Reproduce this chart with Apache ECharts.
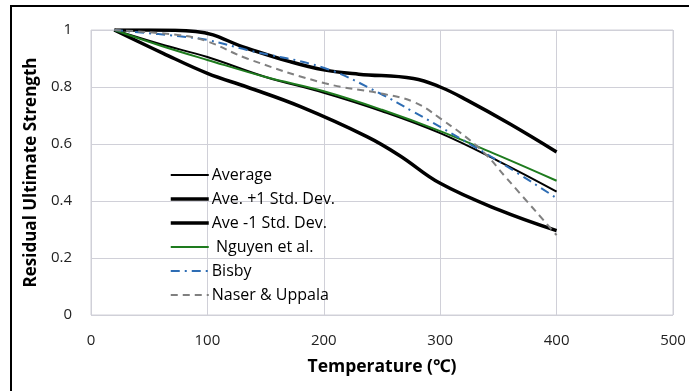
<!DOCTYPE html>
<html>
<head>
<meta charset="utf-8">
<script src="https://cdn.jsdelivr.net/npm/echarts@6/dist/echarts.min.js"></script>
<style>html,body{margin:0;padding:0;background:#fff}#c{width:689px;height:391px}</style>
</head>
<body>
<div id="c"></div>
<script>
var seriesNames = ['Average', 'Ave. +1 Std. Dev.', 'Ave -1 Std. Dev.', ' Nguyen et al.', 'Bisby', 'Naser & Uppala'];
var xTicks = [0, 100, 200, 300, 400, 500];
var yTicks = [0, 0.2, 0.4, 0.6, 0.8, 1];

var avgT = [20, 60, 100, 150, 200, 250, 300, 350, 400];
var avgV = [1.0, 0.95, 0.905, 0.835, 0.78, 0.715, 0.638, 0.54, 0.433];

var plusT = [20, 50, 90, 134, 170, 200, 230, 277, 300, 323, 360, 400];
var plusV = [1.0, 1.0, 0.995, 0.936, 0.89, 0.86, 0.845, 0.83, 0.80, 0.754, 0.67, 0.572];

var minusT = [20, 62, 100, 134, 180, 237, 265, 300, 351, 400];
var minusV = [1.0, 0.918, 0.848, 0.80, 0.731, 0.626, 0.56, 0.462, 0.368, 0.296];

var nguyenT = [20, 60, 100, 150, 200, 250, 300, 350, 400];
var nguyenV = [1.0, 0.945, 0.895, 0.835, 0.785, 0.72, 0.645, 0.56, 0.471];

var bisbyT = [20, 76, 100, 134, 201, 248, 277, 300, 350, 400];
var bisbyV = [1.0, 0.978, 0.965, 0.93, 0.866, 0.778, 0.713, 0.66, 0.54, 0.41];

var naserT = [20, 76, 100, 134, 201, 248, 277, 300, 335, 357, 400];
var naserV = [1.0, 0.982, 0.96, 0.90, 0.813, 0.778, 0.748, 0.69, 0.58, 0.48, 0.28];

function pairs(t, v) { return t.map(function (x, i) { return [x, v[i]]; }); }

var styles = [
  {color: '#000000', width: 2, type: 'solid'},
  {color: '#000000', width: 3.5, type: 'solid'},
  {color: '#000000', width: 3.5, type: 'solid'},
  {color: '#1E7B1E', width: 2, type: 'solid'},
  {color: '#2E6DB4', width: 2, type: [9, 5, 2, 5]},
  {color: '#808080', width: 2, type: [7, 5]}
];
var datas = [pairs(avgT, avgV), pairs(plusT, plusV), pairs(minusT, minusV),
             pairs(nguyenT, nguyenV), pairs(bisbyT, bisbyV), pairs(naserT, naserV)];

var chart = echarts.init(document.getElementById('c'));
var font = '"Open Sans", "Noto Sans", sans-serif';
chart.setOption({
  animation: false,
  backgroundColor: '#fff',
  graphic: [{
    type: 'rect', shape: {x: 11, y: 6, width: 720, height: 420},
    style: {fill: 'none', stroke: '#000', lineWidth: 2}, silent: true
  }],
  grid: {left: 91, right: 16, top: 30, bottom: 76, show: true, borderColor: '#D0D0D8', borderWidth: 1},
  xAxis: {
    type: 'value', min: xTicks[0], max: xTicks[xTicks.length - 1], interval: 100,
    name: 'Temperature (℃)', nameLocation: 'middle', nameGap: 43,
    nameTextStyle: {fontFamily: font, fontSize: 17.5, fontWeight: 'bold', color: '#000'},
    axisLine: {show: false}, axisTick: {show: false},
    axisLabel: {fontFamily: font, fontSize: 15, color: '#222', margin: 18},
    splitLine: {lineStyle: {color: '#D0D0D8', width: 1}}
  },
  yAxis: {
    type: 'value', min: yTicks[0], max: yTicks[yTicks.length - 1], interval: 0.2,
    name: 'Residual Ultimate Strength', nameLocation: 'middle', nameGap: 51,
    nameTextStyle: {fontFamily: font, fontSize: 17, fontWeight: 'bold', color: '#000'},
    axisLine: {show: false}, axisTick: {show: false},
    axisLabel: {fontFamily: font, fontSize: 15, color: '#222', margin: 19},
    splitLine: {lineStyle: {color: '#D0D0D8', width: 1}}
  },
  legend: {
    orient: 'vertical', left: 164, top: 162, itemWidth: 38, itemHeight: 14, itemGap: 8,
    itemStyle: {opacity: 0},
    textStyle: {fontFamily: font, fontSize: 16, color: '#000', padding: [0, 0, 0, -2]},
    data: seriesNames.map(function (n, i) {
      return {name: n, lineStyle: {width: styles[i].width, color: styles[i].color, type: styles[i].type}};
    })
  },
  series: seriesNames.map(function (n, i) {
    return {
      name: n, type: 'line', data: datas[i], smooth: 0.4, symbol: 'none',
      lineStyle: {color: styles[i].color, width: styles[i].width, type: styles[i].type, cap: 'butt'},
      itemStyle: {color: styles[i].color}
    };
  })
});
</script>
</body>
</html>
